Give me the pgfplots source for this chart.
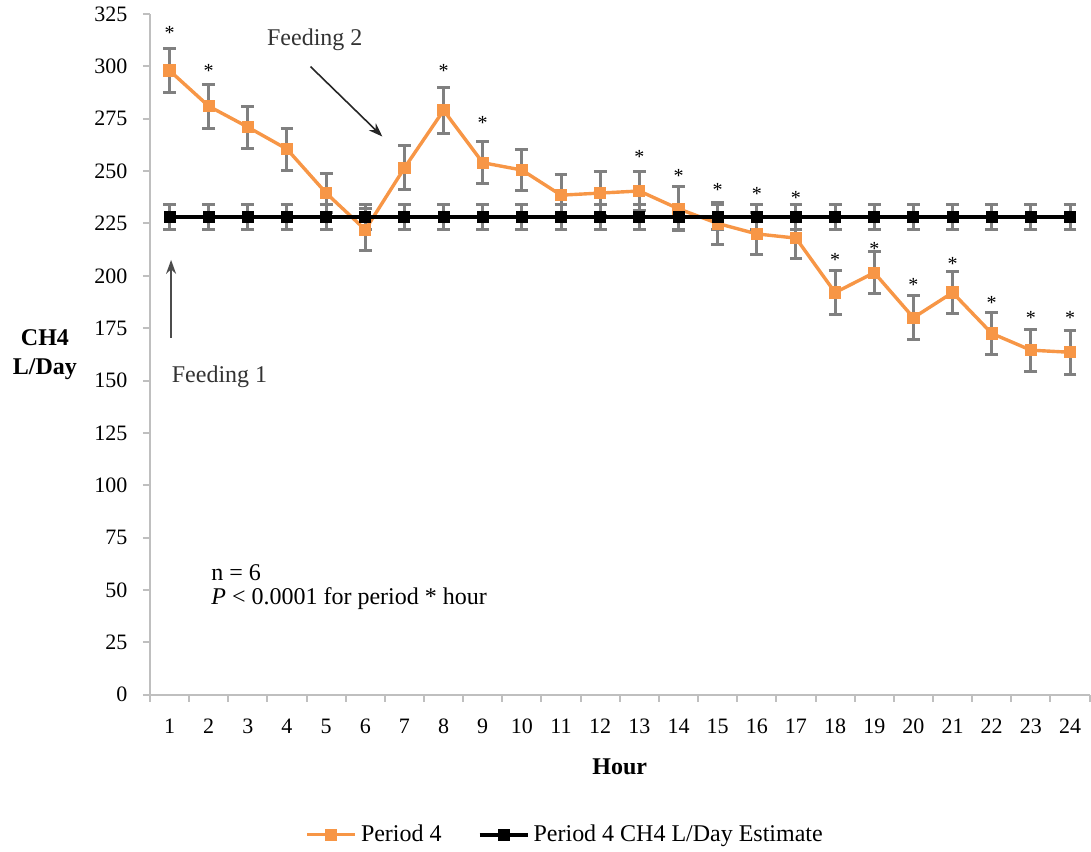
\documentclass[border=0pt]{standalone}
\usepackage{fontspec}
\setmainfont{Liberation Serif}
\usepackage{pgfplots}
\pgfplotsset{compat=1.18}
\usetikzlibrary{arrows.meta}
\definecolor{orng}{HTML}{F79646}
\definecolor{axgray}{HTML}{BFBFBF}
\definecolor{ebgray}{HTML}{808080}
\newcommand{\twelve}{\fontsize{12}{14.4}\selectfont}
\begin{document}
\begin{tikzpicture}
\begin{axis}[
  scale only axis, width=470pt, height=340.5pt,
  xmin=0.5, xmax=24.5, ymin=0, ymax=325,
  axis x line*=bottom, axis y line*=left,
  axis line style={axgray, line width=1pt},
  xtick={1,...,24}, major x tick style={draw=none},
  minor xtick={0.5,1.5,...,24.5},
  ytick={0,25,...,325},
  tick align=outside, tick style={axgray, line width=1pt},
  major tick length=3.5pt, minor tick length=3.5pt,
  /pgf/number format/assume math mode=true,
  tick label style={font=\rmfamily\fontsize{11}{13}\selectfont, black},
  xticklabel style={yshift=-5pt},
  yticklabel style={xshift=-4.3pt},
  xlabel={Hour},
  xlabel style={font=\twelve\bfseries, at={(axis description cs:0.5,-0.1057)}, anchor=center},
  ylabel={CH4\\L/Day},
  ylabel style={font=\twelve\bfseries, rotate=-90, align=center, at={(axis description cs:-0.1117,0.5)}, anchor=center},
  legend style={draw=none, font=\twelve, at={(0.443,-0.2056)}, anchor=center, legend columns=2,
    /tikz/every even column/.append style={column sep=16pt}},
  legend image code/.code={\draw[mark repeat=2,mark phase=2,#1] plot coordinates {(0pt,0pt) (12pt,0pt) (24pt,0pt)};},
]
\addplot[orng, line width=1.7pt, mark=square*, mark size=2.2pt, mark options={solid, fill=orng, draw=orng},
  error bars/.cd, y dir=both, y explicit,
  error bar style={ebgray, line width=1.5pt},
  error mark options={rotate=90, mark size=3.2pt, ebgray, line width=1.5pt}]
coordinates {
(1,298) +- (0,10.5)
(2,281) +- (0,10.5)
(3,271) +- (0,10)
(4,260.5) +- (0,10)
(5,239.5) +- (0,9.5)
(6,222) +- (0,10)
(7,251.5) +- (0,10.5)
(8,279) +- (0,11)
(9,254) +- (0,10)
(10,250.5) +- (0,10)
(11,238.5) +- (0,10)
(12,239.5) +- (0,10.5)
(13,240.5) +- (0,9.5)
(14,232) +- (0,10.5)
(15,225) +- (0,10)
(16,220) +- (0,10)
(17,218) +- (0,9.5)
(18,192) +- (0,10.5)
(19,201.5) +- (0,10)
(20,180) +- (0,10.5)
(21,192) +- (0,10)
(22,172.5) +- (0,10)
(23,164.5) +- (0,10)
(24,163.5) +- (0,10.5)
};
\addlegendentry{Period 4}
\addplot[black, line width=2pt, mark=square*, mark size=2pt, mark options={solid, fill=black},
  error bars/.cd, y dir=both, y explicit,
  error bar style={ebgray, line width=1.5pt},
  error mark options={rotate=90, mark size=3.2pt, ebgray, line width=1.5pt}]
coordinates {
(1,228) +- (0,6) (2,228) +- (0,6) (3,228) +- (0,6) (4,228) +- (0,6)
(5,228) +- (0,6) (6,228) +- (0,6) (7,228) +- (0,6) (8,228) +- (0,6)
(9,228) +- (0,6) (10,228) +- (0,6) (11,228) +- (0,6) (12,228) +- (0,6)
(13,228) +- (0,6) (14,228) +- (0,6) (15,228) +- (0,6) (16,228) +- (0,6)
(17,228) +- (0,6) (18,228) +- (0,6) (19,228) +- (0,6) (20,228) +- (0,6)
(21,228) +- (0,6) (22,228) +- (0,6) (23,228) +- (0,6) (24,228) +- (0,6)
};
\addlegendentry{Period 4 CH4 L/Day Estimate}
% significance asterisks
\addplot[draw=none, mark=none, forget plot, nodes near coords={*},
  every node near coord/.append style={anchor=center, font=\fontsize{10}{12}\selectfont, black}]
coordinates {
(1,316) (2,298) (8,298) (9,273) (13,256.7) (14,247.6) (15,241) (16,239) (17,237)
(18,207.5) (19,213) (20,195.6) (21,205.6) (22,187) (23,180) (24,180)
};
\node[font=\twelve, text=black!80] at (axis cs:4.71,312.6) {Feeding 2};
\draw[black!85, line width=0.8pt, -{Stealth[length=7pt,width=5pt]}] (axis cs:4.60,299.9) -- (axis cs:6.436,266.5);
\draw[black!70, line width=0.8pt, -{Stealth[length=7pt,width=5pt]}] (axis cs:1.04,170.4) -- (axis cs:1.04,207.6);
\node[font=\twelve, text=black!80, anchor=west, inner sep=0pt] at (axis cs:1.05,151.8) {Feeding 1};
\node[font=\twelve, anchor=west, inner sep=0pt] at (axis cs:2.06,58.2) {n = 6};
\node[font=\twelve, anchor=west, inner sep=0pt] at (axis cs:2.06,45.8) {\textit{P} < 0.0001 for period * hour};
\end{axis}
\pgfresetboundingbox
\path[use as bounding box] ([xshift=-75pt,yshift=-78.5pt]current axis.south west) rectangle ([xshift=0.7pt,yshift=7pt]current axis.north east);
\end{tikzpicture}
\end{document}
